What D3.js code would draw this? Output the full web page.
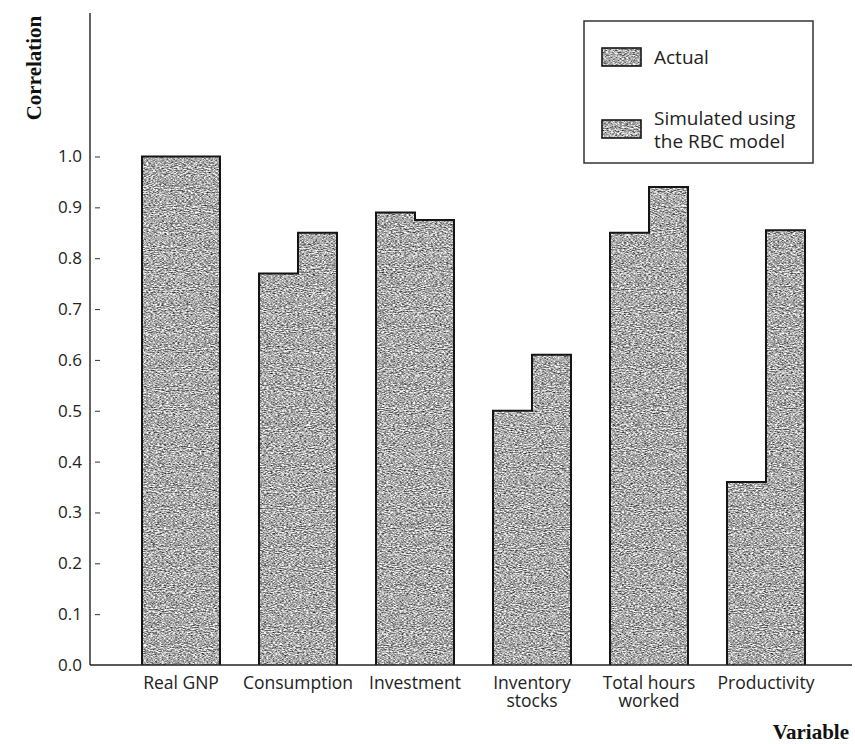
<!DOCTYPE html>
<html>
<head>
<meta charset="utf-8">
<script src="https://cdn.jsdelivr.net/npm/d3@7"></script>
<style>
  html, body { margin: 0; padding: 0; background: #fff; }
  svg { display: block; }
</style>
</head>
<body>
<svg id="chart" width="855" height="744"></svg>
<script>
// ---- data ----
const categories = ["Real GNP", "Consumption", "Investment", "Inventory stocks", "Total hours worked", "Productivity"];
const categoryLines = [["Real GNP"], ["Consumption"], ["Investment"], ["Inventory", "stocks"], ["Total hours", "worked"], ["Productivity"]];
const actual    = [1.00, 0.77, 0.89, 0.50, 0.85, 0.36];
const simulated = [1.00, 0.85, 0.875, 0.61, 0.94, 0.855];
const seriesNames = ["Actual", "Simulated using the RBC model"];
const legendLines = [["Actual"], ["Simulated using", "the RBC model"]];
const yTicks = [0.0, 0.1, 0.2, 0.3, 0.4, 0.5, 0.6, 0.7, 0.8, 0.9, 1.0];
const yTitle = "Correlation";
const xTitle = "Variable";

const svg = d3.select("#chart");
const defs = svg.append("defs");

// noisy gray texture
const f = defs.append("filter").attr("id", "tex")
  .attr("x", 0).attr("y", 0).attr("width", 1).attr("height", 1)
  .attr("color-interpolation-filters", "sRGB");
f.append("feTurbulence").attr("type", "fractalNoise")
  .attr("baseFrequency", "0.45 0.95").attr("numOctaves", 2).attr("seed", 7).attr("result", "n");
f.append("feColorMatrix").attr("in", "n").attr("type", "matrix")
  .attr("values", "1.45 0 0 0 -0.06  1.45 0 0 0 -0.06  1.45 0 0 0 -0.06  0 0 0 0 1").attr("result", "g");
f.append("feComposite").attr("in", "g").attr("in2", "SourceGraphic").attr("operator", "in");

const y = d3.scaleLinear().domain([0, 1]).range([665, 156.5]);
const x = d3.scaleBand().domain(categories).range([142, 805]).paddingInner(1/3).paddingOuter(0);
const xs = d3.scaleBand().domain(seriesNames).range([0, x.bandwidth()]);

const data = categories.map((c, i) => ({c, a: actual[i], s: simulated[i], lines: categoryLines[i]}));

// bars (fills)
const g = svg.append("g");
data.forEach(d => {
  [[seriesNames[0], d.a], [seriesNames[1], d.s]].forEach(([sn, v]) => {
    g.append("rect")
      .attr("x", x(d.c) + xs(sn))
      .attr("y", y(v))
      .attr("width", xs.bandwidth())
      .attr("height", y(0) - y(v))
      .attr("fill", "#a6a6a6")
      .attr("filter", "url(#tex)");
  });
  const x0 = x(d.c), xm = x(d.c) + xs(seriesNames[1]), x1 = x(d.c) + x.bandwidth();
  g.append("path")
    .attr("d", `M${x0},${y(0)}V${y(d.a)}H${xm}V${y(d.s)}H${x1}V${y(0)}`)
    .attr("fill", "none").attr("stroke", "#151515").attr("stroke-width", 2);
});

// baseline
svg.append("line").attr("x1", 90).attr("x2", 852).attr("y1", y(0)).attr("y2", y(0))
  .attr("stroke", "#222").attr("stroke-width", 1.6);
// y axis line
svg.append("line").attr("x1", 90).attr("x2", 90).attr("y1", 13).attr("y2", y(0))
  .attr("stroke", "#222").attr("stroke-width", 1.4);

// y axis labels
const yAxis = svg.append("g").attr("transform", "translate(90,0)")
  .call(d3.axisLeft(y).tickValues(yTicks).tickFormat(d3.format(".1f")).tickSize(0).tickPadding(8));
yAxis.select(".domain").remove();
yAxis.selectAll("text").attr("font-family", "'Open Sans', sans-serif").attr("font-size", 17).attr("fill", "#222");
// small tick dashes to the right of the axis
const yDash = svg.append("g").attr("transform", "translate(95,0)")
  .call(d3.axisRight(y).tickValues(yTicks.filter(v => v > 0)).tickFormat("").tickSize(5));
yDash.select(".domain").remove();
yDash.selectAll("line").attr("stroke", "#333").attr("stroke-width", 1);

// x labels
const xl = svg.append("g");
data.forEach(d => {
  const t = xl.append("text")
    .attr("x", x(d.c) + x.bandwidth() / 2)
    .attr("y", 689)
    .attr("text-anchor", "middle")
    .attr("font-family", "'Open Sans', sans-serif").attr("font-size", 17.5).attr("fill", "#222");
  d.lines.forEach((ln, k) => {
    t.append("tspan").attr("x", x(d.c) + x.bandwidth() / 2).attr("dy", k === 0 ? 0 : 18).text(ln);
  });
});

// titles
svg.append("text").attr("transform", "translate(41,68) rotate(-90)")
  .attr("text-anchor", "middle").attr("font-family", "'Liberation Serif', serif")
  .attr("font-weight", "bold").attr("font-size", 21).attr("fill", "#111").text(yTitle);
svg.append("text").attr("x", 849).attr("y", 739).attr("text-anchor", "end")
  .attr("font-family", "'Liberation Serif', serif")
  .attr("font-weight", "bold").attr("font-size", 21).attr("fill", "#111").text(xTitle);

// legend
const lg = svg.append("g");
lg.append("rect").attr("x", 584).attr("y", 21).attr("width", 229).attr("height", 142)
  .attr("fill", "#fff").attr("stroke", "#333").attr("stroke-width", 1.5);
const legendY = [57, 129];
seriesNames.forEach((sn, i) => {
  lg.append("rect").attr("x", 602).attr("y", legendY[i] - 9).attr("width", 39).attr("height", 18)
    .attr("fill", "#a6a6a6").attr("filter", "url(#tex)");
  lg.append("rect").attr("x", 602).attr("y", legendY[i] - 9).attr("width", 39).attr("height", 18)
    .attr("fill", "none").attr("stroke", "#151515").attr("stroke-width", 1.6);
  const lines = legendLines[i];
  const t = lg.append("text").attr("x", 654)
    .attr("y", legendY[i] + 7 - (lines.length - 1) * 11.5)
    .attr("font-family", "'Open Sans', sans-serif").attr("font-size", 19).attr("fill", "#222");
  lines.forEach((ln, k) => t.append("tspan").attr("x", 654).attr("dy", k === 0 ? 0 : 23).text(ln));
});
</script>
</body>
</html>
